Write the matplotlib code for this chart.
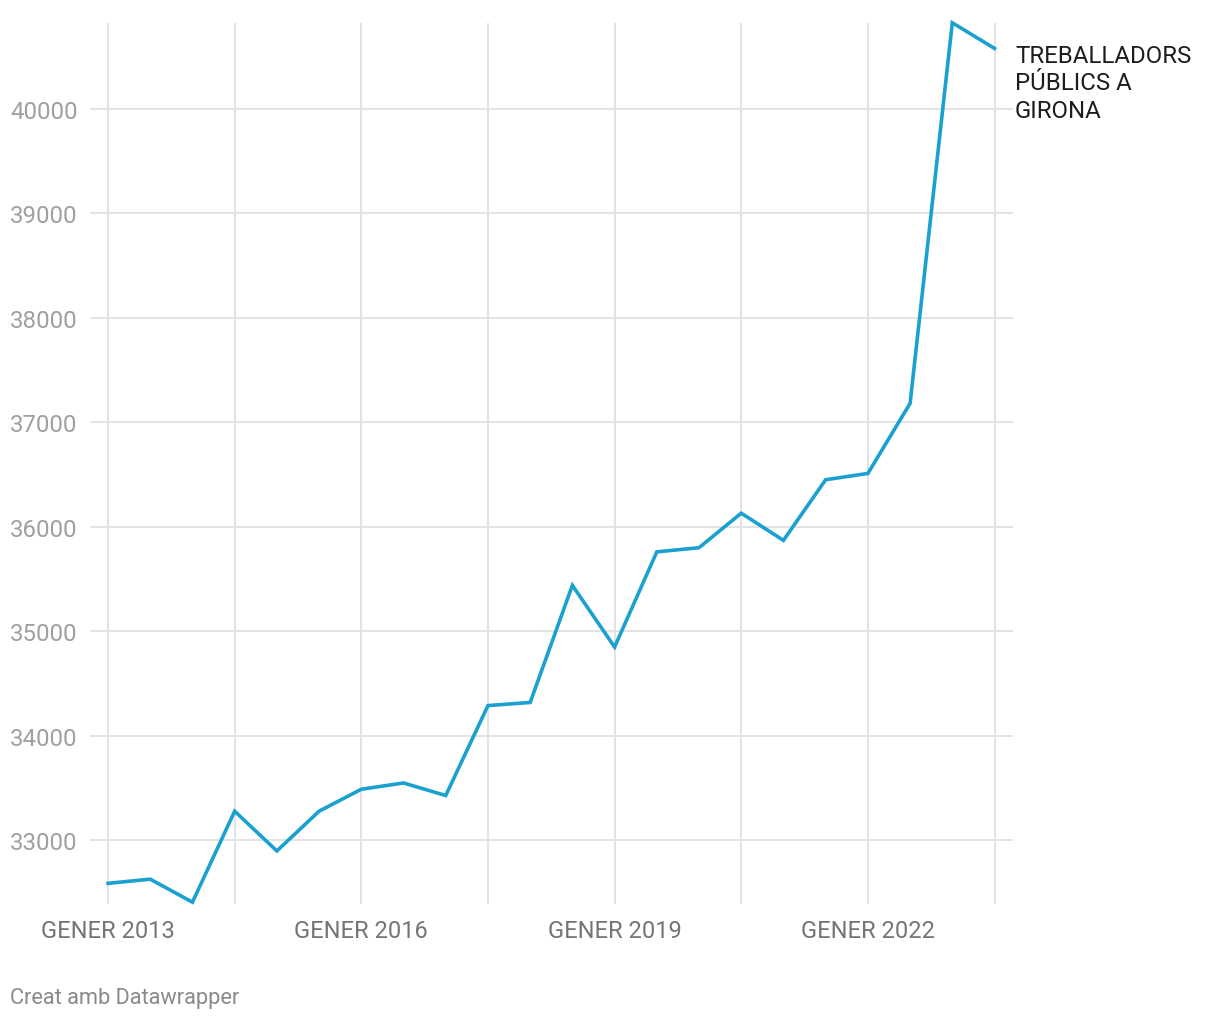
import matplotlib.pyplot as plt
from matplotlib.ticker import FixedLocator, FuncFormatter

plt.rcParams["font.family"] = ["Roboto", "DejaVu Sans"]

# semestres: gener i juliol de cada any, 2013-2023
anys = [2013 + i * 0.5 for i in range(22)]
treballadors = [32590, 32630, 32410, 33280, 32900, 33280, 33490, 33550,
                33430, 34290, 34320, 35440, 34850, 35760, 35800, 36130,
                35870, 36450, 36510, 37180, 40820, 40575]
ticks_y = [33000, 34000, 35000, 36000, 37000, 38000, 39000, 40000]
ticks_x = [2013, 2014.5, 2016, 2017.5, 2019, 2020.5, 2022, 2023.5]
etiquetes_x = {2013: "GENER 2013", 2016: "GENER 2016",
               2019: "GENER 2019", 2022: "GENER 2022"}

fig = plt.figure(figsize=(12.2, 10.2), dpi=100)
ax = fig.add_axes([0.0738, 0.1132, 0.7566, 0.8637])

ax.plot(anys, treballadors, color="#1ba1cf", linewidth=2.6,
        solid_joinstyle="miter", clip_on=False, zorder=3)

ax.set_xlim(2012.787, 2023.72)
ax.set_ylim(32397, 40822)
ax.yaxis.set_major_locator(FixedLocator(ticks_y))
ax.xaxis.set_major_locator(FixedLocator(ticks_x))
ax.xaxis.set_major_formatter(FuncFormatter(lambda v, p: etiquetes_x.get(round(v, 1), "")))
ax.yaxis.set_major_formatter(FuncFormatter(lambda v, p: f"{int(v)}"))

ax.grid(True, color="#e3e3e3", linewidth=1.4)
ax.set_axisbelow(True)
for s in ax.spines.values():
    s.set_visible(False)
ax.tick_params(axis="both", length=0)
ax.tick_params(axis="y", labelsize=17.3, labelcolor="#a0a0a0", pad=9)
ax.tick_params(axis="x", labelsize=17, labelcolor="#757575", pad=11)

fig.text(1015 / 1220, 1 - 45 / 1020, "TREBALLADORS\nPÚBLICS A\nGIRONA",
         ha="left", va="top", fontsize=17.3, color="#1d1d1d", linespacing=1.25)
fig.text(10 / 1220, 1 - 999 / 1020, "Creat amb Datawrapper",
         ha="left", va="center", fontsize=15.7, color="#8a8a8a")

fig.savefig("out.png", dpi=100)
